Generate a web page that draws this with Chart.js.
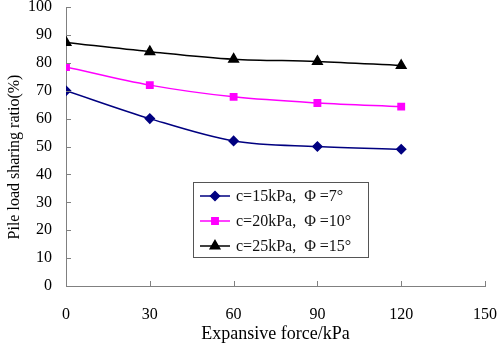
<!DOCTYPE html>
<html>
<head>
<meta charset="utf-8">
<script src="https://cdn.jsdelivr.net/npm/chart.js@4/dist/chart.umd.min.js"></script>
<style>
  html, body { margin: 0; padding: 0; background: #fff; }
  #wrap { width: 498px; height: 345px; }
</style>
</head>
<body>
<div id="wrap"><canvas id="chart" width="498" height="345"></canvas></div>
<script>
// --- data ---
const forces = [0, 30, 60, 90, 120];
const ratioC15 = [70, 60, 52, 50, 49];
const ratioC20 = [78.5, 72, 67.8, 65.6, 64.3];
const ratioC25 = [87.3, 84, 81.3, 80.5, 79];
const seriesLabels = ['c=15kPa,  \u03A6 =7\u00B0', 'c=20kPa,  \u03A6 =10\u00B0', 'c=25kPa,  \u03A6 =15\u00B0'];
const xTicks = [0, 30, 60, 90, 120, 150];
const yTicks = [0, 10, 20, 30, 40, 50, 60, 70, 80, 90, 100];
const yTitle = 'Pile load sharing ratio(%)';

const FONT = '"Liberation Serif", "Times New Roman", serif';
const AXIS = '#808080';

const toPoints = arr => arr.map((v, i) => ({ x: forces[i], y: v }));

// inward tick marks on both axes + the y title (sits a bit below centre in the original)
const innerTicks = {
    id: 'innerTicks',
    afterDraw(chart) {
        const { ctx, scales: { x, y } } = chart;
        ctx.save();
        ctx.strokeStyle = AXIS;
        ctx.lineWidth = 1;
        ctx.beginPath();
        xTicks.forEach(v => {
            const px = Math.round(x.getPixelForValue(v)) + 0.5;
            ctx.moveTo(px, y.bottom);
            ctx.lineTo(px, y.bottom - 5);
        });
        yTicks.forEach(v => {
            const py = Math.round(y.getPixelForValue(v)) + 0.5;
            ctx.moveTo(x.left, py);
            ctx.lineTo(x.left + 5, py);
        });
        ctx.stroke();

        ctx.translate(15, 157);
        ctx.rotate(-Math.PI / 2);
        ctx.fillStyle = '#000';
        ctx.font = '16px ' + FONT;
        ctx.textAlign = 'center';
        ctx.textBaseline = 'middle';
        ctx.fillText(yTitle, 0, 0);
        ctx.restore();
    }
};

// boxed legend sitting inside the plot
const boxLegend = {
    id: 'boxLegend',
    afterDraw(chart) {
        const { ctx } = chart;
        const bx = 193, by = 182, bw = 175, bh = 75;
        ctx.save();
        ctx.fillStyle = '#fff';
        ctx.fillRect(bx, by, bw, bh);
        ctx.strokeStyle = '#555';
        ctx.lineWidth = 1;
        ctx.strokeRect(bx + 0.5, by + 0.5, bw, bh);
        chart.data.datasets.forEach((ds, i) => {
            const cy = by + 14 + i * 25;
            ctx.strokeStyle = ds.borderColor;
            ctx.lineWidth = 1.5;
            ctx.beginPath();
            ctx.moveTo(bx + 7, cy);
            ctx.lineTo(bx + 37, cy);
            ctx.stroke();
            ctx.fillStyle = ds.backgroundColor;
            Chart.helpers.drawPoint(ctx, {
                pointStyle: ds.pointStyle, radius: ds.pointRadius,
                rotation: 0, borderWidth: 1
            }, bx + 22, cy);
            ctx.fillStyle = '#111';
            ctx.font = '16px ' + FONT;
            ctx.textBaseline = 'middle';
            ctx.fillText(ds.label, bx + 43, cy + 1);
        });
        ctx.restore();
    }
};

const makeSet = (label, data, color, style, r) => ({
    label, data: toPoints(data),
    borderColor: color, backgroundColor: color,
    pointStyle: style, pointRadius: r, pointHoverRadius: r,
    pointBorderColor: color, pointBackgroundColor: color,
    borderWidth: 1.5, tension: 0.4, cubicInterpolationMode: 'monotone'
});

new Chart(document.getElementById('chart'), {
    type: 'line',
    data: {
        datasets: [
            makeSet(seriesLabels[0], ratioC15, '#000080', 'rectRot', 4.5),
            makeSet(seriesLabels[1], ratioC20, '#FF00FF', 'rect', 4.5),
            makeSet(seriesLabels[2], ratioC25, '#000000', 'triangle', 5.5)
        ]
    },
    options: {
        responsive: false,
        animation: false,
        layout: { padding: { top: 7, right: 13, left: 0, bottom: 0 } },
        plugins: { legend: { display: false }, tooltip: { enabled: false } },
        scales: {
            x: {
                type: 'linear', min: 0, max: 150,
                afterBuildTicks: s => { s.ticks = xTicks.map(v => ({ value: v })); },
                afterFit: s => { s.height = 59; s.paddingLeft = 0; s.paddingRight = 0; },
                grid: { display: false },
                border: { color: AXIS, width: 1 },
                ticks: { color: '#000', font: { family: FONT, size: 16 }, padding: 11, maxRotation: 0 },
                title: { display: true, text: 'Expansive force/kPa', color: '#000', font: { family: FONT, size: 18 }, padding: { top: 0, bottom: 0 } }
            },
            y: {
                min: 0, max: 100,
                afterBuildTicks: s => { s.ticks = yTicks.map(v => ({ value: v })); },
                afterFit: s => { s.width = 66; s.paddingTop = 0; s.paddingBottom = 0; },
                grid: { display: false },
                border: { color: AXIS, width: 1 },
                ticks: { color: '#000', font: { family: FONT, size: 16 }, padding: 6 },
                title: { display: false }
            }
        }
    },
    plugins: [innerTicks, boxLegend]
});
</script>
</body>
</html>
